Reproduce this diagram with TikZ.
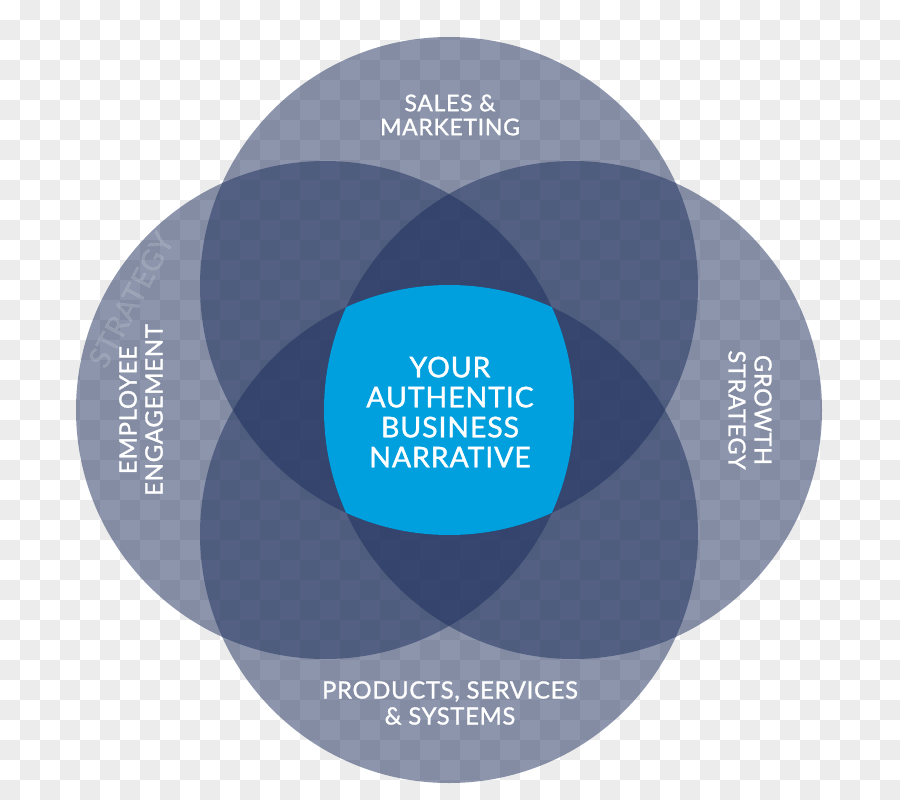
\documentclass[tikz,border=0pt]{standalone}
\usepackage{fontspec}
\setmainfont{Lato}
\newfontfamily\medio{Lato}[FakeBold=1.2, LetterSpace=3]
\usepackage{xcolor}
\usepackage{tikz}
\usetikzlibrary{positioning}
\definecolor{navy}{RGB}{27,45,91}
\definecolor{azzurro}{RGB}{0,160,223}
\definecolor{quadro}{RGB}{236,236,236}

\begin{document}
\begin{tikzpicture}[x=1pt, y=-1pt,
    cerchio/.style={fill=navy, fill opacity=0.5},
    etichetta/.style={text=white, align=center, font=\medio\fontsize{23}{24}\selectfont}]
    \useasboundingbox (0,0) rectangle (900,800);

    % Sfondo a scacchi
    \fill[white] (0,0) rectangle (900,800);
    \foreach \i in {0,...,44} {
        \foreach \j in {0,...,39} {
            \pgfmathtruncatemacro\k{mod(\i+\j,2)}
            \ifnum\k=1 \fill[quadro] (20*\i,20*\j) rectangle ++(20,20); \fi
        }
    }

    % Quattro cerchi trasparenti
    \fill[cerchio] (449,286) circle (249pt);
    \fill[cerchio] (325,410) circle (249pt);
    \fill[cerchio] (573,410) circle (249pt);
    \fill[cerchio] (449,534) circle (249pt);

    % Intersezione centrale (azzurra)
    \begin{scope}
        \clip (449,286) circle (249pt);
        \clip (325,410) circle (249pt);
        \clip (573,410) circle (249pt);
        \fill[azzurro] (449,534) circle (249pt);
    \end{scope}

    % Scritta in filigrana
    \node[text=white, text opacity=0.14, rotate=62, font=\medio\fontsize{29}{29}\selectfont] (filigrana) at (131,300) {STRATEGY};

    % Etichette
    \node[etichetta] (vendite) at (450,115) {SALES \&\\MARKETING};
    \node[etichetta, rotate=90, font=\medio\fontsize{24}{26}\selectfont] (dipendenti) at (141,410) {EMPLOYEE\\ENGAGEMENT};
    \node[etichetta, rotate=-90, font=\medio\fontsize{23.5}{26}\selectfont] (crescita) at (750,410) {GROWTH\\STRATEGY};
    \node[etichetta, font=\medio\fontsize{23.8}{26}\selectfont] (prodotti) at (450,703) {PRODUCTS, SERVICES\\\& SYSTEMS};
    \node[etichetta, font=\medio\fontsize{28.5}{30}\selectfont] (racconto) at (450,412) {YOUR\\AUTHENTIC\\BUSINESS\\NARRATIVE};

\end{tikzpicture}
\end{document}
